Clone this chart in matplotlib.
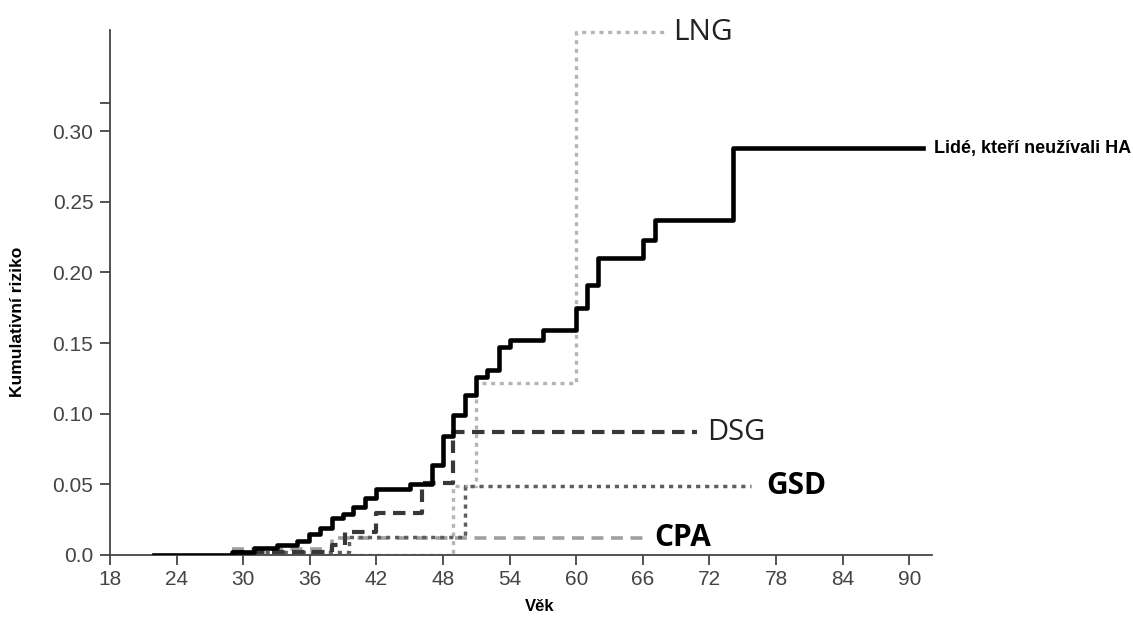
import matplotlib
matplotlib.use("Agg")
import matplotlib.pyplot as plt

# ---- data ----
never_age = [22, 29, 31, 33, 34.8, 35.9, 36.9, 38, 39, 39.9, 41, 42, 45, 47, 48, 48.9,
             50, 51, 52, 53, 54, 57, 60, 61, 62, 66, 67.1, 74.1, 91.2]
never_risk = [0.0, 0.002, 0.005, 0.007, 0.010, 0.015, 0.019, 0.026, 0.029, 0.034, 0.040,
              0.047, 0.050, 0.064, 0.084, 0.099, 0.113, 0.126, 0.131, 0.147, 0.152,
              0.159, 0.175, 0.191, 0.210, 0.223, 0.237, 0.288, 0.288]

dsg_age = [29, 38, 39.2, 42, 46.1, 48.9, 70.9]
dsg_risk = [0.002, 0.007, 0.016, 0.030, 0.051, 0.087, 0.087]

gsd_age = [29.5, 39.5, 50.0, 75.7]
gsd_risk = [0.002, 0.013, 0.049, 0.049]

cpa_age = [29, 38, 66]
cpa_risk = [0.004, 0.012, 0.012]

lng_age = [29.5, 48.9, 51.0, 60.0, 68.0]
lng_risk = [0.0, 0.049, 0.122, 0.370, 0.370]

x_ticks = [18, 24, 30, 36, 42, 48, 54, 60, 66, 72, 78, 84, 90]
y_ticks = [0.0, 0.05, 0.10, 0.15, 0.20, 0.25, 0.30]
y_tick_labels = ["0.0", "0.05", "0.10", "0.15", "0.20", "0.25", "0.30"]

# ---- figure ----
fig = plt.figure(figsize=(11.33, 6.19), dpi=100)
ax = fig.add_axes([0.0971, 0.1034, 0.7255, 0.8481])

ax.step(lng_age, lng_risk, where="post", color="#b5b5b5", lw=2.4,
        linestyle=(0, (1.2, 1.4)), zorder=2)
ax.step(cpa_age, cpa_risk, where="post", color="#a0a0a0", lw=2.6,
        linestyle=(0, (3.3, 2.1)), zorder=2)
ax.step(gsd_age, gsd_risk, where="post", color="#5e5e5e", lw=2.5,
        linestyle=(0, (1.2, 1.4)), zorder=3)
ax.step(dsg_age, dsg_risk, where="post", color="#383838", lw=3.0,
        linestyle=(0, (3, 1.8)), zorder=3)
ax.step(never_age, never_risk, where="post", color="black", lw=3.3, zorder=4)

ax.set_xlim(18, 92.05)
ax.set_ylim(0, 0.3715)
ax.set_xticks(x_ticks)
ax.set_xticklabels([str(v) for v in x_ticks])
ax.set_yticks(y_ticks + [0.32])
ax.set_yticklabels(y_tick_labels + [""])

for s in ["top", "right"]:
    ax.spines[s].set_visible(False)
for s in ["left", "bottom"]:
    ax.spines[s].set_color("#444444")
    ax.spines[s].set_linewidth(1.3)
ax.tick_params(axis="both", direction="out", length=7, width=1.3, color="#444444",
               labelcolor="#444444", labelsize=15)
ax.tick_params(axis="y", pad=5)
for lab in ax.get_xticklabels() + ax.get_yticklabels():
    lab.set_family("Liberation Sans")

ax.set_xlabel("Věk", fontsize=12, fontweight="bold", family="Liberation Sans")
ax.set_ylabel("Kumulativní riziko", fontsize=12.5, fontweight="bold",
              family="Liberation Sans")
ax.xaxis.set_label_coords(0.523, -0.083)
ax.yaxis.set_label_coords(-0.104, 0.445)

# ---- direct labels ----
ax.text(92.2, 0.288, "Lidé, kteří neužívali HA", fontsize=13, fontweight="bold",
        family="Liberation Sans", va="center", ha="left", clip_on=False)
ax.text(68.7, 0.3695, "LNG", fontsize=21.5, family="Open Sans", va="center", ha="left",
        color="#222222", clip_on=False)
ax.text(71.8, 0.087, "DSG", fontsize=21, family="Open Sans", va="center", ha="left",
        color="#222222", clip_on=False)
ax.text(77.1, 0.049, "GSD", fontsize=21.5, family="Open Sans", fontweight="bold",
        va="center", ha="left", color="black", clip_on=False)
ax.text(67.0, 0.012, "CPA", fontsize=21.5, family="Open Sans", fontweight="bold",
        va="center", ha="left", color="black", clip_on=False)

fig.savefig("out.png", dpi=100)
